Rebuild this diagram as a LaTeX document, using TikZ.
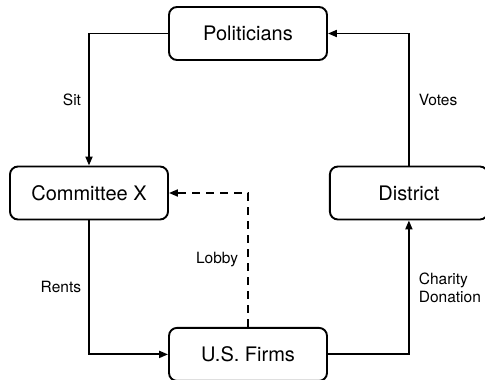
\documentclass[tikz,border=0pt]{standalone}
\usepackage{fontspec}
\setmainfont{TeX Gyre Heros}
\usetikzlibrary{arrows.meta, positioning}

\begin{document}
\begin{tikzpicture}[x=1pt, y=1pt,
        box/.style={draw, rectangle, rounded corners=8pt, line width=1.9pt, minimum width=158pt, minimum height=53pt, align=center, font=\fontsize{20}{24}\selectfont},
        arrow/.style={->, >={Triangle[length=9pt, width=7pt]}, line width=1.9pt},
        lbl/.style={inner sep=2pt, align=left, font=\fontsize{15.5}{18}\selectfont}
    ]
        \useasboundingbox (0,0) rectangle (485,-380);
        \node[box] (pol) at (248,-33.5) {Politicians};
        \node[box, below=266pt of pol] (firms) {U.S. Firms};
        \node[box] (comm) at (89,-193) {Committee X};
        \node[box, right=160pt of comm] (dist) {District};
        \draw[arrow] (pol.west) -| node[lbl, pos=0.75, left=5pt] {Sit} (comm.north);
        \draw[arrow] (dist.north) |- node[lbl, pos=0.25, right=7pt] {Votes} (pol.east);
        \draw[arrow] (comm.south) |- node[lbl, pos=0.25, left=5pt] {Rents} (firms.west);
        \draw[arrow] (firms.east) -| node[lbl, pos=0.75, right=7pt] {Charity\\Donation} (dist.south);
        \draw[arrow, dash pattern=on 8pt off 6pt] (firms.north) |- node[lbl, pos=0.25, left=7pt] {Lobby} (comm.east);
    \end{tikzpicture}
\end{document}
